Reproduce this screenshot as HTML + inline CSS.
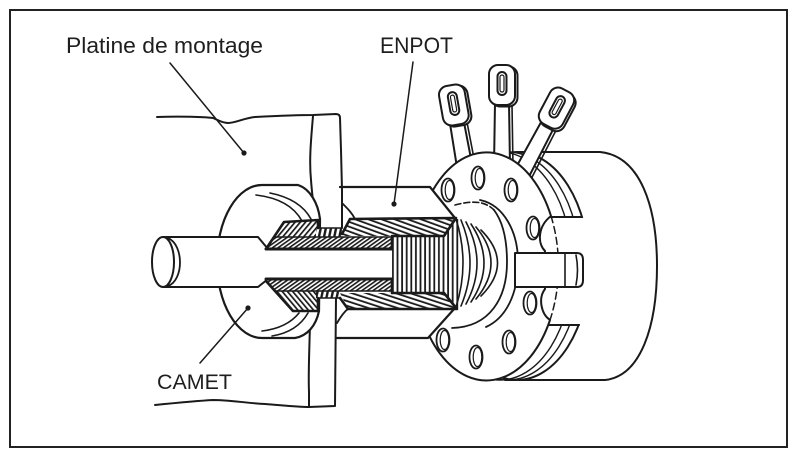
<!DOCTYPE html>
<html><head><meta charset="utf-8">
<style>
html,body{margin:0;padding:0;background:#fff;}
svg{display:block;}
text{font-family:"Liberation Sans",Arial,sans-serif;fill:#1e1e1e;}
</style></head><body>
<svg width="800" height="460" viewBox="0 0 800 460" xmlns="http://www.w3.org/2000/svg">
<defs>
 <pattern id="hs" width="4" height="4" patternUnits="userSpaceOnUse" patternTransform="rotate(40)">
  <rect width="4" height="4" fill="#fff"/><rect width="1.7" height="4" fill="#1a1a1a"/>
 </pattern>
 <pattern id="hb" width="4" height="4" patternUnits="userSpaceOnUse" patternTransform="rotate(-40)">
  <rect width="4" height="4" fill="#fff"/><rect width="1.7" height="4" fill="#1a1a1a"/>
 </pattern>
 <pattern id="hw" width="3.2" height="3.2" patternUnits="userSpaceOnUse" patternTransform="rotate(55)">
  <rect width="3.2" height="3.2" fill="#fff"/><rect width="1.6" height="3.2" fill="#1a1a1a"/>
 </pattern>
 <pattern id="he1" width="4.5" height="4.5" patternUnits="userSpaceOnUse" patternTransform="rotate(-70)">
  <rect width="4.5" height="4.5" fill="#fff"/><rect width="1.8" height="4.5" fill="#1a1a1a"/>
 </pattern>
 <pattern id="he2" width="4.5" height="4.5" patternUnits="userSpaceOnUse" patternTransform="rotate(-72)">
  <rect width="4.5" height="4.5" fill="#fff"/><rect width="1.8" height="4.5" fill="#1a1a1a"/>
 </pattern>
 <pattern id="ht" width="5" height="6" patternUnits="userSpaceOnUse" patternTransform="rotate(12)">
  <rect width="5" height="6" fill="#fff"/><rect width="2.4" height="6" fill="#1a1a1a"/>
 </pattern>
 <pattern id="thr" width="4.6" height="10" patternUnits="userSpaceOnUse">
  <rect width="4.6" height="10" fill="#fff"/><rect x="1" width="1.8" height="10" fill="#1a1a1a"/>
 </pattern>
 <g id="lug" stroke="#1a1a1a" stroke-linejoin="round">
  <path d="M-7,17 L-8,80 L8,80 L7,17 Z" fill="#fff" stroke-width="2"/>
  <path d="M10,19 L11,80" fill="none" stroke-width="1.6"/>
  <rect x="-10.5" y="-19.5" width="26" height="40" rx="9" fill="#fff" stroke-width="2"/>
  <rect x="-13" y="-21" width="26" height="40" rx="9" fill="#fff" stroke-width="2"/>
  <rect x="-4.5" y="-14" width="9" height="23" rx="4.5" fill="#fff" stroke-width="2"/>
  <rect x="-2" y="-11" width="4" height="17" rx="2" fill="none" stroke-width="1.2"/>
 </g>
</defs>

<!-- frame -->
<rect x="10" y="10" width="777" height="437" fill="none" stroke="#222" stroke-width="2"/>

<g stroke="#1a1a1a" stroke-linejoin="round" stroke-linecap="round">
<!-- pot body -->
<path d="M520,152 L600,152 C641,156 657,208 657,266 C657,326 641,376 605,380 L505,380" fill="#fff" stroke-width="2"/>

<!-- flange back rim -->
<ellipse cx="517" cy="266" rx="72" ry="114" fill="#fff" stroke-width="2"/>
<ellipse cx="508" cy="266" rx="72" ry="114" fill="none" stroke-width="1.4"/>
<ellipse cx="500" cy="266" rx="72" ry="114" fill="none" stroke-width="1.4"/>
<rect x="553" y="218" width="46" height="106" fill="#fff" stroke="none"/>
<path d="M549,217 L582,217 M548,325 L579,325" fill="none" stroke-width="2"/>

<!-- terminals -->
<use href="#lug" transform="translate(454,106) rotate(-10)"/>
<use href="#lug" transform="translate(502,86)"/>
<use href="#lug" transform="translate(556,109) rotate(28)"/>

<!-- flange front face -->
<path d="M551,216 A72,114 0 1 0 550,320 C541,314 538,298 545,289 L545,251 C537,243 538,226 551,216 Z" fill="#fff" stroke-width="2"/>
<path d="M551,216 A72,114 0 0 1 550,320" fill="none" stroke-width="1.5" stroke-dasharray="7,4"/>

<!-- holes -->
<g fill="#fff" stroke-width="1.8">
 <ellipse cx="448" cy="190" rx="6.5" ry="11.5"/><ellipse cx="449.5" cy="190" rx="4.3" ry="9.5" fill="none" stroke-width="1.2"/>
 <ellipse cx="478" cy="178" rx="6.5" ry="11.5"/><ellipse cx="479.5" cy="178" rx="4.3" ry="9.5" fill="none" stroke-width="1.2"/>
 <ellipse cx="511" cy="190" rx="6.5" ry="11.5"/><ellipse cx="512.5" cy="190" rx="4.3" ry="9.5" fill="none" stroke-width="1.2"/>
 <ellipse cx="533" cy="228" rx="6.5" ry="11.5"/><ellipse cx="534.5" cy="228" rx="4.3" ry="9.5" fill="none" stroke-width="1.2"/>
 <ellipse cx="530" cy="303" rx="6.5" ry="11.5"/><ellipse cx="531.5" cy="303" rx="4.3" ry="9.5" fill="none" stroke-width="1.2"/>
 <ellipse cx="509" cy="342" rx="6.5" ry="11.5"/><ellipse cx="510.5" cy="342" rx="4.3" ry="9.5" fill="none" stroke-width="1.2"/>
 <ellipse cx="476" cy="357" rx="6.5" ry="11.5"/><ellipse cx="477.5" cy="357" rx="4.3" ry="9.5" fill="none" stroke-width="1.2"/>
 <ellipse cx="443" cy="340" rx="6.5" ry="11.5"/><ellipse cx="444.5" cy="340" rx="4.3" ry="9.5" fill="none" stroke-width="1.2"/>
</g>

<!-- inner rings -->
<path d="M455,205 C470,201 484,200 494,210" fill="none" stroke-width="1.6" stroke-dasharray="6,3"/>
<path d="M494,210 C503,222 507,240 507,262 C507,298 490,327 452,328" fill="none" stroke-width="1.8"/>
<path d="M480,200 C504,205 518,232 518,262 C518,294 506,318 486,327" fill="none" stroke-width="1.8"/>

<!-- tab -->
<path d="M515,253 L577,253 Q583,253 583,260 L583,280 Q583,287 577,287 L515,287 Z" fill="#fff" stroke-width="2"/>
<path d="M565,253 L565,287 M576,255 Q579,270 576,285" fill="none" stroke-width="1.6"/>

<!-- ENPOT nut -->
<path d="M340,187 L430,187 L455,218 L455,308 L428,338 L337,338 L337,297 L340,222 Z" fill="#fff" stroke="none"/>
<path d="M340,187 L430,187 L455,218 M455,308 L428,338 L337,338" fill="none" stroke-width="2.2"/>
<path d="M342,203 C348,209 352,213 355,219 M337,323 C341,316 345,311 349,308" fill="none" stroke-width="1.8"/>

<!-- threads -->
<rect x="389" y="219" width="70" height="89" fill="url(#thr)" stroke="none"/>
<g fill="none" stroke-width="1.6">
 <path d="M456,219 Q470,263 456,307"/>
 <path d="M461,220 Q479,263 461,306"/>
 <path d="M466,222 Q488,263 466,304"/>
 <path d="M471,224 Q497,263 471,302"/>
 <path d="M476,227 Q506,263 476,299"/>
 <path d="M481,230 Q514,263 481,296"/>
</g>

<!-- mounting plate -->
<path d="M157,117 C180,116 205,117 213,118 C218,120 222,123 228,123 C236,123 244,118 255,117 C275,116 295,115 313,115 L336,114 Q340,114 340,118 L341,150 L342,190 L342,228" fill="none" stroke-width="2"/>
<path d="M313,116 C311,140 309,160 311,180 C312,195 314,205 315,228" fill="none" stroke-width="2"/>
<path d="M155,405 C175,403 195,401 213,400 C230,400 245,403 265,404 C280,405 295,407 309,407 L335,406 L336,298" fill="none" stroke-width="2"/>
<path d="M309,407 L309,392 C308,370 310,340 310,315" fill="none" stroke-width="2"/>

<!-- CAMET nut -->
<path d="M262,185 L298,185 C310,189 318,203 320,219 L319,311 C316,326 307,336 295,338 L262,338 A45,76.5 0 0 1 262,185 Z" fill="#fff" stroke-width="2.2"/>
<path d="M256,195 Q290,199 302,221 M270,193 Q300,199 311,219 M262,331 Q287,328 299,313 M272,336 Q297,332 308,313" fill="none" stroke-width="1.6"/>

<!-- shaft -->
<path d="M163,237 L258,237 L268,249 L392,249 L392,279 L268,279 L258,287 L163,287 Z" fill="#fff" stroke="none"/>
<path d="M163,237 L258,237 L268,249 M163,287 L258,287 L268,279" fill="none" stroke-width="2"/>
<ellipse cx="163" cy="262" rx="11" ry="25" fill="#fff" stroke-width="2"/>
<path d="M168,238 C184,245 184,280 168,286" fill="none" stroke-width="1.8"/>

<!-- hatched sections: upper -->
<path d="M274,237 L392,237 L392,249 L266,249 Z" fill="url(#hw)" stroke="none"/>
<path d="M266,249 L284,222 L318,220 L318,237 L274,237 Z" fill="url(#hs)" stroke="none"/>
<path d="M316,228 L342,228 L342,237 L316,237 Z" fill="url(#ht)" stroke="none"/>
<path d="M342,236 L350,219 L456,218 L444,236 Z" fill="url(#he1)" stroke="none"/>
<path d="M266,249 L284,222 L318,220 L318,228 M342,234 L350,219 L456,218 L444,236 L392,236 L392,249" fill="none" stroke-width="2.6"/>
<path d="M318,228 L342,228 M274,237 L392,237" fill="none" stroke-width="1.4"/>

<!-- hatched sections: lower -->
<path d="M266,279 L392,279 L392,291 L275,291 Z" fill="url(#hw)" stroke="none"/>
<path d="M266,281 L275,291 L318,291 L318,311 L293,311 Z" fill="url(#hb)" stroke="none"/>
<path d="M316,291 L340,291 L340,298 L316,298 Z" fill="url(#ht)" stroke="none"/>
<path d="M340,293 L444,293 L457,309 L348,309 Z" fill="url(#he2)" stroke="none"/>
<path d="M266,281 L293,311 L318,311 L318,298 M392,279 L392,293 L444,293 L457,309 L348,309 L340,298" fill="none" stroke-width="2.6"/>
<path d="M275,291 L392,291 M318,298 L340,298" fill="none" stroke-width="1.4"/>

<!-- bore -->
<path d="M266,249 L392,249 M266,279 L392,279" fill="none" stroke-width="3"/>

<!-- leaders -->
<path d="M170,63 L244,153 M413,62 L394,204 M248,308 L200,363" fill="none" stroke-width="1.5"/>
</g>
<g fill="#1a1a1a">
 <circle cx="244" cy="153" r="2.6"/>
 <circle cx="394" cy="204" r="2.6"/>
 <circle cx="248" cy="308" r="2.6"/>
</g>

<!-- labels -->
<text x="66" y="53" font-size="22" textLength="197" lengthAdjust="spacingAndGlyphs">Platine de montage</text>
<text x="380" y="53" font-size="22" textLength="73" lengthAdjust="spacingAndGlyphs">ENPOT</text>
<text x="157" y="389" font-size="21.5" textLength="75" lengthAdjust="spacingAndGlyphs">CAMET</text>
</svg>
</body></html>
